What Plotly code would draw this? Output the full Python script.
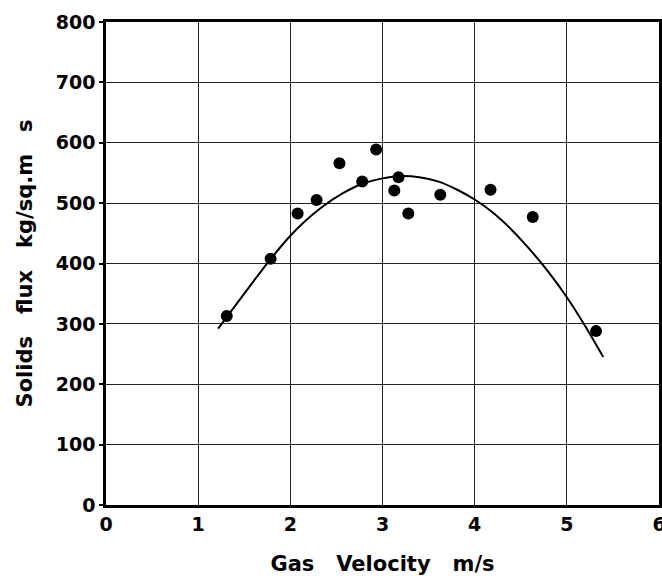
import plotly.graph_objects as go

# Measured points
gas_velocity = [1.31, 1.786, 2.079, 2.285, 2.533, 2.78, 2.931, 3.128, 3.174, 3.28, 3.627, 4.172, 4.63, 5.317]
solids_flux = [313, 408, 483, 505, 566, 536, 589, 521, 543, 483, 514, 522, 477, 288]

# Fitted curve
curve_x = [1.217, 1.5, 1.779, 2.0, 2.13, 2.348, 2.566, 2.783, 3.0, 3.2, 3.4, 3.6, 3.8, 4.0,
           4.2, 4.4, 4.6, 4.8, 5.0, 5.2, 5.395]
curve_y = [292, 350, 406, 446, 466, 494, 516, 532, 541, 545, 543, 536, 523, 506,
           484, 456, 423, 386, 344, 296, 245]

x_ticks = [0, 1, 2, 3, 4, 5, 6]
y_ticks = [0, 100, 200, 300, 400, 500, 600, 700, 800]

FONT = "DejaVu Sans"

fig = go.Figure()
fig.add_trace(go.Scatter(x=curve_x, y=curve_y, mode="lines",
                         line=dict(color="black", width=2, shape="spline", smoothing=1),
                         hoverinfo="skip", showlegend=False))
fig.add_trace(go.Scatter(x=gas_velocity, y=solids_flux, mode="markers",
                         marker=dict(color="black", size=12),
                         showlegend=False))

fig.update_layout(
    width=662, height=576,
    margin=dict(l=106, r=3, t=22, b=71),
    paper_bgcolor="white", plot_bgcolor="white",
    font=dict(family=FONT, color="black", size=19, weight="bold"),
)
fig.update_xaxes(
    range=[0, 6], tickvals=x_ticks, ticktext=[str(v) for v in x_ticks],
    showgrid=True, gridcolor="#222", gridwidth=1,
    showline=True, linecolor="black", linewidth=2.5, mirror=True,
    ticks="", ticklabelstandoff=0, ticklabeloverflow="allow",
    zeroline=False, automargin=False,
    tickfont=dict(family=FONT, size=19, weight="bold"),
    title=dict(text="Gas   Velocity   m/s", standoff=32,
               font=dict(family=FONT, size=21, weight="bold")),
)
fig.update_yaxes(
    range=[0, 800], tickvals=y_ticks, ticktext=[str(v) for v in y_ticks],
    showgrid=True, gridcolor="#222", gridwidth=1,
    showline=True, linecolor="black", linewidth=2.5, mirror=True,
    ticks="outside", ticklen=4, tickcolor="black", tickwidth=1.5,
    zeroline=False, automargin=False, ticklabeloverflow="allow",
    tickfont=dict(family=FONT, size=19, weight="bold"),
    title=dict(text="Solids   flux   kg/sq.m   s", standoff=18,
               font=dict(family=FONT, size=21, weight="bold")),
)

fig.write_html("out.html")
